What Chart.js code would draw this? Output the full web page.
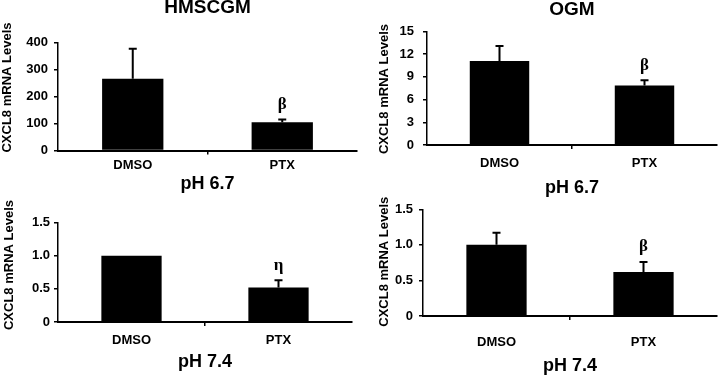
<!DOCTYPE html>
<html>
<head>
<meta charset="utf-8">
<script src="https://cdn.jsdelivr.net/npm/chart.js@4.4.0/dist/chart.umd.min.js"></script>
<style>
    html, body { margin: 0; padding: 0; background: #fff; }
    #wrap { position: relative; width: 721px; height: 376px; overflow: hidden; background: #fff; }
    #wrap canvas { position: absolute; }
</style>
</head>
<body>
<div id="wrap">
    <canvas id="chartHm67"></canvas>
    <canvas id="chartOgm67"></canvas>
    <canvas id="chartHm74"></canvas>
    <canvas id="chartOgm74"></canvas>
</div>
<script>
// ===== 数据 =====
const categories = ['DMSO', 'PTX'];
const yAxisTitle = 'CXCL8 mRNA Levels';

// HMSCGM, pH 6.7
const hm67Values = [266, 105];
const hm67Errors = [111, 10];
const hm67Marks = ['', 'β'];
const hm67Ticks = ['0', '100', '200', '300', '400'];

// OGM, pH 6.7
const ogm67Values = [11.1, 7.85];
const ogm67Errors = [2.0, 0.7];
const ogm67Marks = ['', 'β'];
const ogm67Ticks = ['0', '3', '6', '9', '12', '15'];

// HMSCGM, pH 7.4
const hm74Values = [1.0, 0.52];
const hm74Errors = [0, 0.11];
const hm74Marks = ['', 'η'];

// OGM, pH 7.4
const ogm74Values = [1.0, 0.62];
const ogm74Errors = [0.17, 0.14];
const ogm74Marks = ['', 'β'];

const ph74Ticks = ['0', '0.5', '1.0', '1.5'];

// ===== 样式 =====
const FONT = '"Liberation Sans", Arial, sans-serif';
const TITLE_SIZE = 19;
const PH_SIZE = 18;
const XTICK_SIZE = 13;
const TICK_LEN = 4;

// 每个面板的位置（页面坐标）
const PANEL_LAYOUT = {
    chartHm67:  { left: 0,   top: -2,   width: 360, height: 197, area: { l: 58,  r: 357, t: 42.5,  b: 150.5 }, tickY: 165,   xTitleY: 183.7, yTitle: { x: 7,   y: 87.5 },  yTickPad: 6 },
    chartOgm67: { left: 362, top: -0.5, width: 359, height: 200, area: { l: 427, r: 717, t: 31,    b: 144.5 }, tickY: 162.5, xTitleY: 188,   yTitle: { x: 384, y: 88.5 },  yTickPad: 9 },
    chartHm74:  { left: 0,   top: 200,  width: 360, height: 176, area: { l: 58,  r: 352, t: 222.7, b: 322 },   tickY: 340,   xTitleY: 362.5, yTitle: { x: 9,   y: 265 },   yTickPad: 4 },
    chartOgm74: { left: 362, top: 195,  width: 359, height: 181, area: { l: 423, r: 717, t: 209.3, b: 316 },   tickY: 342,   xTitleY: 366.5, yTitle: { x: 384, y: 261.7 }, yTickPad: 6 }
};

// 误差线 + 显著性标记
const errorBarPlugin = {
    id: 'errorBars',
    afterDatasetsDraw(chart, args, opts) {
        const meta = chart.getDatasetMeta(0);
        const yScale = chart.scales.y;
        const values = chart.data.datasets[0].data;
        const ctx = chart.ctx;
        ctx.save();
        ctx.strokeStyle = '#000';
        ctx.fillStyle = '#000';
        ctx.lineWidth = 2;
        meta.data.forEach((bar, i) => {
            const err = opts.errors[i] || 0;
            const topY = yScale.getPixelForValue(values[i] + err);
            if (err > 0) {
                ctx.beginPath();
                ctx.moveTo(bar.x, bar.y);
                ctx.lineTo(bar.x, topY);
                ctx.moveTo(bar.x - 4, topY);
                ctx.lineTo(bar.x + 4, topY);
                ctx.stroke();
            }
            if (opts.marks[i]) {
                ctx.font = 'bold 17px "Liberation Serif", "DejaVu Serif", serif';
                ctx.textAlign = 'center';
                ctx.textBaseline = 'middle';
                ctx.fillText(opts.marks[i], bar.x, topY - 15);
            }
        });
        ctx.restore();
    }
};

// 纵轴标题（旋转文字）
const sideTitlePlugin = {
    id: 'sideTitle',
    afterDraw(chart, args, opts) {
        const ctx = chart.ctx;
        ctx.save();
        ctx.translate(opts.x, opts.y);
        ctx.rotate(-Math.PI / 2);
        ctx.font = 'bold 13px ' + FONT;
        ctx.fillStyle = '#000';
        ctx.textAlign = 'center';
        ctx.textBaseline = 'middle';
        ctx.fillText(opts.text, 0, 0);
        ctx.restore();
    }
};

/**
 * 创建单个柱状图面板
 * @param {string} id - canvas ID
 * @param {Object} cfg - 数据与文字
 */
function createPanel(id, cfg) {
    const panel = PANEL_LAYOUT[id];
    const a = panel.area;
    const canvas = document.getElementById(id);
    canvas.width = panel.width;
    canvas.height = panel.height;
    canvas.style.left = panel.left + 'px';
    canvas.style.top = panel.top + 'px';

    const yWidth = a.l - panel.left;
    const xHeight = panel.xTitleY + PH_SIZE / 2 - a.b;
    const padTop = cfg.title ? 0 : a.t - panel.top;
    const padBottom = panel.top + panel.height - a.b - xHeight;
    const padRight = panel.left + panel.width - a.r;
    const xTickPad = panel.tickY - a.b - TICK_LEN - XTICK_SIZE * 1.2 / 2;
    const tickLabels = cfg.ticks;

    return new Chart(canvas, {
        type: 'bar',
        data: {
            labels: categories,
            datasets: [{
                data: cfg.values,
                backgroundColor: '#000',
                borderWidth: 0,
                categoryPercentage: 1,
                barPercentage: 0.41
            }]
        },
        options: {
            responsive: false,
            animation: false,
            devicePixelRatio: 1,
            layout: {
                padding: { left: 0, right: padRight, top: padTop, bottom: padBottom }
            },
            plugins: {
                legend: { display: false },
                tooltip: { enabled: false },
                title: {
                    display: !!cfg.title,
                    text: cfg.title || '',
                    fullSize: false,
                    color: '#000',
                    font: { family: FONT, size: TITLE_SIZE, weight: 'bold', lineHeight: 1 },
                    padding: { top: 0, bottom: a.t - panel.top - TITLE_SIZE }
                },
                errorBars: { errors: cfg.errors, marks: cfg.marks },
                sideTitle: { text: yAxisTitle, x: panel.yTitle.x - panel.left, y: panel.yTitle.y - panel.top }
            },
            scales: {
                x: {
                    afterFit: function(scale) { scale.height = xHeight; },
                    border: { display: true, color: '#000', width: 2 },
                    grid: {
                        drawOnChartArea: false,
                        drawTicks: true,
                        tickLength: TICK_LEN,
                        lineWidth: 1.5,
                        color: function(ctx) { return ctx.index === 1 ? '#000' : 'rgba(0,0,0,0)'; }
                    },
                    ticks: {
                        color: '#000',
                        padding: xTickPad,
                        font: { family: FONT, size: XTICK_SIZE, weight: 'bold' }
                    },
                    title: {
                        display: true,
                        text: cfg.xTitle,
                        color: '#000',
                        padding: 0,
                        font: { family: FONT, size: PH_SIZE, weight: 'bold', lineHeight: 1 }
                    }
                },
                y: {
                    min: 0,
                    max: parseFloat(tickLabels[tickLabels.length - 1]),
                    afterFit: function(scale) { scale.width = yWidth; },
                    border: { display: true, color: '#000', width: 1.5 },
                    grid: {
                        drawOnChartArea: false,
                        drawTicks: true,
                        tickLength: TICK_LEN,
                        lineWidth: 1.5,
                        color: '#000'
                    },
                    ticks: {
                        stepSize: parseFloat(tickLabels[1]),
                        color: '#000',
                        padding: panel.yTickPad,
                        font: { family: FONT, size: 13, weight: 'bold' },
                        callback: function(value, index) { return tickLabels[index]; }
                    }
                }
            }
        },
        plugins: [errorBarPlugin, sideTitlePlugin]
    });
}

createPanel('chartHm67',  { title: 'HMSCGM', xTitle: 'pH 6.7', values: hm67Values,  errors: hm67Errors,  marks: hm67Marks,  ticks: hm67Ticks });
createPanel('chartOgm67', { title: 'OGM',    xTitle: 'pH 6.7', values: ogm67Values, errors: ogm67Errors, marks: ogm67Marks, ticks: ogm67Ticks });
createPanel('chartHm74',  { title: '',       xTitle: 'pH 7.4', values: hm74Values,  errors: hm74Errors,  marks: hm74Marks,  ticks: ph74Ticks });
createPanel('chartOgm74', { title: '',       xTitle: 'pH 7.4', values: ogm74Values, errors: ogm74Errors, marks: ogm74Marks, ticks: ph74Ticks });
</script>
</body>
</html>
